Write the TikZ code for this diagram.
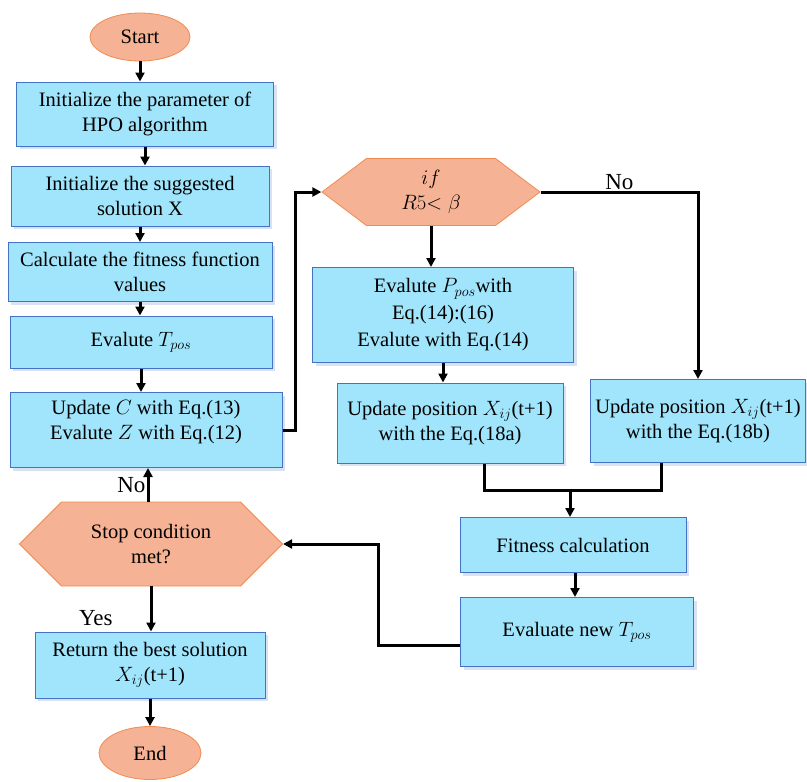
\documentclass[tikz,border=0pt]{standalone}
\usepackage{fontspec}
\setmainfont{Liberation Serif}
\usetikzlibrary{shapes.geometric,shapes.symbols,arrows.meta,shadows}
\definecolor{boxfill}{RGB}{160,229,251}
\definecolor{boxline}{RGB}{68,114,196}
\definecolor{termfill}{RGB}{245,178,148}
\definecolor{termline}{RGB}{240,140,80}
\tikzset{
  box/.style={rectangle, draw=boxline, fill=boxfill, line width=1pt, align=center,
    inner sep=2pt, font=\fontsize{20.5}{25}\selectfont,
    drop shadow={shadow xshift=3pt, shadow yshift=-3pt, fill=boxline!35, opacity=0.6}},
  term/.style={ellipse, draw=termline, fill=termfill, line width=0.8pt,
    font=\fontsize{20.5}{25}\selectfont, inner sep=0pt},
  decision/.style={signal, signal to=east and west, draw=termline, fill=termfill,
    line width=0.8pt, align=center, inner sep=0pt, font=\fontsize{20.5}{25}\selectfont},
  flow/.style={line width=3pt, -{Triangle[length=9pt,width=9pt]}},
  link/.style={line width=3pt},
  tag/.style={font=\fontsize{23}{25}\selectfont, inner sep=1pt}
}
\begin{document}
\begin{tikzpicture}[x=1pt,y=-1pt]
\useasboundingbox (0,0) rectangle (807,782);
% left column
\node[term, minimum width=100pt, minimum height=48pt] (start) at (140,37) {Start};
\node[box, minimum width=257pt, minimum height=64pt] (init) at (145,114) {Initialize the parameter of\\HPO algorithm};
\node[box, minimum width=258pt, minimum height=60pt] (sol) at (140,196) {Initialize the suggested\\solution X};
\node[box, minimum width=264pt, minimum height=59pt] (fit) at (140,272) {Calculate the fitness function\\values};
\node[box, minimum width=262pt, minimum height=52pt] (tpos) at (141,342) {Evalute $T_{pos}$};
\node[box, minimum width=272pt, minimum height=75pt, text depth=20pt] (upd) at (146,430) {Update $C$ with Eq.(13)\\Evalute $Z$ with Eq.(12)};
\node[decision, minimum width=263pt, minimum height=84pt, signal pointer angle=90] (stop) at (151,544) {Stop condition\\met?};
\node[box, minimum width=230pt, minimum height=66pt] (ret) at (150,665) {Return the best solution\\$X_{ij}$(t+1)};
\node[term, minimum width=102pt, minimum height=53pt] (end) at (150,753) {End};
% right part
\node[decision, minimum width=218pt, minimum height=67pt, signal pointer angle=74] (cond) at (431,192) {$if$\\$R5{<}\;\beta$};
\node[box, minimum width=261pt, minimum height=95pt, font=\fontsize{20.5}{27}\selectfont] (ppos) at (443,315) {Evalute $P_{pos}$with\\Eq.(14):(16)\\Evalute with Eq.(14)};
\node[box, minimum width=226pt, minimum height=80pt] (upa) at (450,423) {Update position $X_{ij}$(t+1)\\with the Eq.(18a)};
\node[box, minimum width=215pt, minimum height=83pt] (upb) at (698,421) {Update position $X_{ij}$(t+1)\\with the Eq.(18b)};
\node[box, minimum width=226pt, minimum height=55pt] (fitc) at (573,545) {Fitness calculation};
\node[box, minimum width=233pt, minimum height=69pt] (newt) at (577,632) {Evaluate new $T_{pos}$};
% bends
\coordinate (up) at (295,0);
\coordinate (join) at (570,490);
\coordinate (back) at (378,0);
% connectors
\draw[flow] (start.south) -- (start.south |- init.north);
\draw[flow] (init.south) -- (init.south |- sol.north);
\draw[flow] (sol.south) -- (sol.south |- fit.north);
\draw[flow] (fit.south) -- (fit.south |- tpos.north);
\draw[flow] (tpos.south) -- (tpos.south |- upd.north);
\draw[flow] (upd.east) -| (up |- cond.west) -- (cond.west);
\draw[flow] (cond.south) -- (cond.south |- ppos.north);
\draw[flow] (cond.east) -| node[tag, pos=0.25, above] {No} (upb.north);
\draw[flow] (ppos.south) -- (ppos.south |- upa.north);
\draw[link] ([xshift=34pt]upa.south) |- (join);
\draw[link] ([xshift=-37pt]upb.south) |- (join);
\draw[flow] (join) -- (join |- fitc.north);
\draw[flow] ([xshift=2pt]fitc.south) -- ([xshift=2pt]fitc.south |- newt.north);
\draw[flow] ([yshift=-13pt]newt.west) -| (back |- stop.east) -- (stop.east);
\draw[flow] ([xshift=-3pt]stop.north) -- node[tag, left] {No} ([xshift=-3pt]stop.north |- upd.south);
\draw[flow] (stop.south) -- node[tag, pos=0.7, left=36pt] {Yes} (stop.south |- ret.north);
\draw[flow] (ret.south) -- (ret.south |- end.north);
\end{tikzpicture}
\end{document}
